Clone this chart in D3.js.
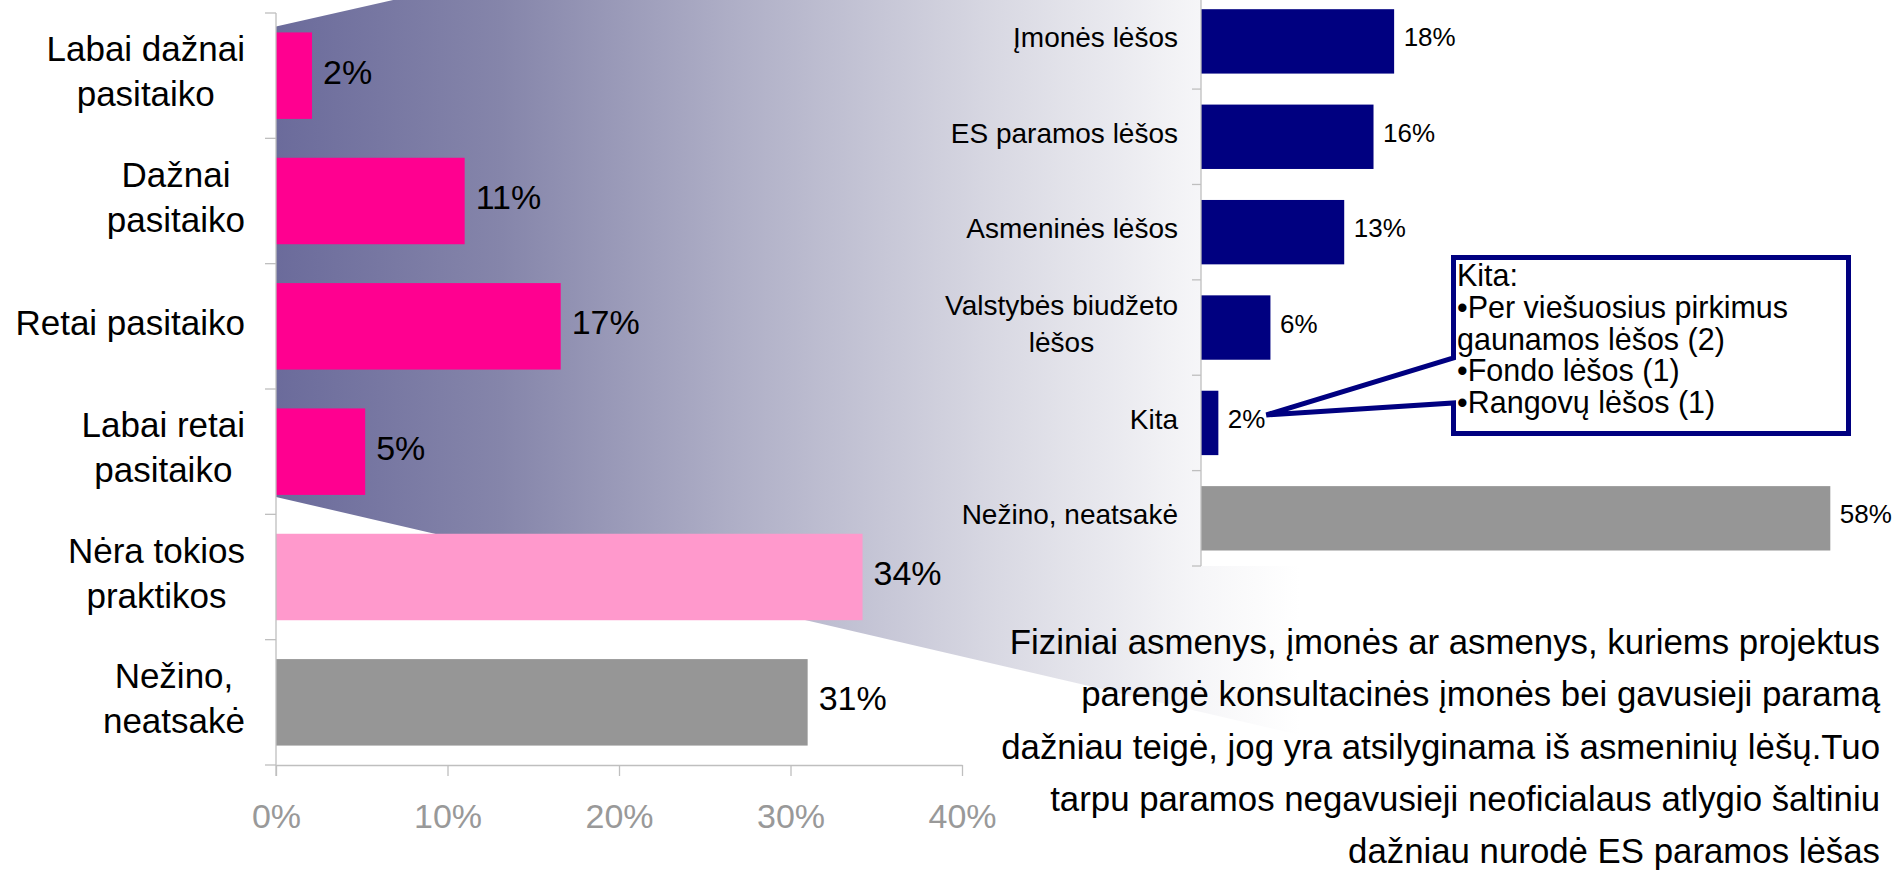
<!DOCTYPE html>
<html><head><meta charset="utf-8">
<script src="https://cdn.jsdelivr.net/npm/d3@7"></script>
<style>
html,body{margin:0;padding:0;background:#fff;overflow:hidden}
svg text{font-family:"Liberation Sans",Arial,Helvetica,sans-serif}
</style>
</head><body>
<svg id="chart" width="1898" height="872"></svg>
<script>
// ---- data ----
const leftCategories = ["Labai dažnai\npasitaiko", "Dažnai\npasitaiko", "Retai pasitaiko", "Labai retai\npasitaiko", "Nėra tokios\npraktikos", "Nežino,\nneatsakė"];
const leftValues = [2.1, 11.0, 16.6, 5.2, 34.2, 31.0];
const leftTicks = [0, 10, 20, 30, 40];

const rightCategories = ["Įmonės lėšos", "ES paramos lėšos", "Asmeninės lėšos", "Valstybės biudžeto\nlėšos", "Kita", "Nežino, neatsakė"];
const rightValues = [17.8, 15.9, 13.2, 6.4, 1.6, 58.0];

const calloutLines = ["Kita:", "•Per viešuosius pirkimus", "gaunamos lėšos (2)", "•Fondo lėšos (1)", "•Rangovų lėšos (1)"];
const noteLines = [
  "Fiziniai asmenys, įmonės ar asmenys, kuriems projektus",
  "parengė konsultacinės įmonės bei gavusieji paramą",
  "dažniau teigė, jog yra atsilyginama iš asmeninių lėšų.Tuo",
  "tarpu paramos negavusieji neoficialaus atlygio šaltiniu",
  "dažniau nurodė ES paramos lėšas"
];

// ---- styles ----
const leftColors = ["#FF0090", "#FF0090", "#FF0090", "#FF0090", "#FF99CC", "#969696"];
const rightColors = ["#000080", "#000080", "#000080", "#000080", "#000080", "#969696"];
const axisColor = "#BFBFBF";

const svg = d3.select("#chart");
const defs = svg.append("defs");

// scales
const xL = d3.scaleLinear().domain([0, 40]).range([276, 962]);
const yL = d3.scaleBand().domain(leftCategories).range([13, 765]).paddingInner(0.31).paddingOuter(0.155);
const xR = d3.scaleLinear().domain([0, 60]).range([1201, 1852]);
const yR = d3.scaleBand().domain(rightCategories).range([-6.3, 566]).paddingInner(0.325).paddingOuter(0.1625);

// zoom gradient shape
const grad = defs.append("linearGradient").attr("id", "zoomGrad")
  .attr("gradientUnits", "userSpaceOnUse").attr("x1", 276).attr("x2", 1300).attr("y1", 0).attr("y2", 0);
[[0, "#6B6B9B"], [0.219, "#8585AA"], [0.443, "#AEAEC6"], [0.707, "#D9D9E3"], [0.903, "#F6F6F8"], [1, "#FFFFFF"]]
  .forEach(([o, c]) => grad.append("stop").attr("offset", o).attr("stop-color", c));
const topL = yL(leftCategories[0]) - 6, botL = yL(leftCategories[3]) + yL.bandwidth() + 2;
const xEnd = 1320;
svg.append("polygon")
  .attr("points", [[xL(0), topL], [xEnd, topL - 0.2256 * (xEnd - xL(0))], [xEnd, botL + 0.2325 * (xEnd - xL(0))], [xL(0), botL]].map(p => p.join(",")).join(" "))
  .attr("fill", "url(#zoomGrad)");
// right chart plot area (white)
svg.append("rect").attr("x", xR(0)).attr("y", 0).attr("width", 1898 - xR(0)).attr("height", yR.range()[1]).attr("fill", "#fff");

function multiLabel(g, text, rightX, cy, fs, lh, yShift) {
  const lines = text.split("\n");
  const t = g.append("text").attr("font-size", fs).attr("text-anchor", "middle").attr("fill", "#000");
  const spans = lines.map(l => t.append("tspan").text(l));
  const widths = spans.map(s => s.node().getComputedTextLength());
  const maxW = Math.max(...widths);
  const cx = rightX - maxW / 2;
  const first = cy + yShift + 0.35 * fs - (lines.length - 1) * lh / 2;
  spans.forEach((s, i) => s.attr("x", cx).attr("y", first + i * lh));
}

// ---- left chart ----
const gL = svg.append("g");
gL.selectAll("rect.bar").data(leftValues).enter().append("rect")
  .attr("x", xL(0)).attr("y", (d, i) => yL(leftCategories[i]))
  .attr("width", d => xL(d) - xL(0)).attr("height", yL.bandwidth())
  .attr("fill", (d, i) => leftColors[i]);

gL.selectAll("text.val").data(leftValues).enter().append("text")
  .attr("x", d => xL(d) + 11)
  .attr("y", (d, i) => yL(leftCategories[i]) + yL.bandwidth() / 2 - 4 + 0.35 * 34)
  .attr("font-size", 34).attr("fill", "#000")
  .text(d => Math.round(d) + "%");

leftCategories.forEach(c => multiLabel(gL, c, 245, yL(c) + yL.bandwidth() / 2, 35, 45, -4));

const stepL = yL.step();
gL.append("line").attr("x1", xL(0)).attr("x2", xL(0)).attr("y1", yL.range()[0]).attr("y2", yL.range()[1] + 11)
  .attr("stroke", axisColor).attr("stroke-width", 1.3);
d3.range(leftCategories.length + 1).forEach(k => {
  const y = yL.range()[0] + k * stepL;
  gL.append("line").attr("x1", xL(0) - 11).attr("x2", xL(0)).attr("y1", y).attr("y2", y)
    .attr("stroke", axisColor).attr("stroke-width", 1.3);
});

const axL = gL.append("g").attr("transform", `translate(0,${yL.range()[1]})`)
  .call(d3.axisBottom(xL).tickValues(leftTicks).tickFormat(d => d + "%").tickSize(11).tickSizeOuter(0).tickPadding(28));
axL.attr("font-family", null).attr("font-size", null);
axL.selectAll("path,line").attr("stroke", axisColor).attr("stroke-width", 1.3);
axL.selectAll("text").attr("fill", "#999999").attr("font-size", 34);

// ---- right chart ----
const gR = svg.append("g");
gR.selectAll("rect.bar").data(rightValues).enter().append("rect")
  .attr("x", xR(0)).attr("y", (d, i) => yR(rightCategories[i]))
  .attr("width", d => xR(d) - xR(0)).attr("height", yR.bandwidth())
  .attr("fill", (d, i) => rightColors[i]);

gR.selectAll("text.val").data(rightValues).enter().append("text")
  .attr("x", d => xR(d) + 9.5)
  .attr("y", (d, i) => yR(rightCategories[i]) + yR.bandwidth() / 2 - 4 + 0.35 * 26)
  .attr("font-size", 26).attr("fill", "#000")
  .text(d => Math.round(d) + "%");

rightCategories.forEach(c => multiLabel(gR, c, 1178, yR(c) + yR.bandwidth() / 2, 28, 37, -4));

const stepR = yR.step();
gR.append("line").attr("x1", xR(0)).attr("x2", xR(0)).attr("y1", 0).attr("y2", yR.range()[1])
  .attr("stroke", axisColor).attr("stroke-width", 1.3);
d3.range(rightCategories.length + 1).forEach(k => {
  const y = yR.range()[0] + k * stepR;
  gR.append("line").attr("x1", xR(0) - 9).attr("x2", xR(0)).attr("y1", y).attr("y2", y)
    .attr("stroke", axisColor).attr("stroke-width", 1.3);
});

// ---- callout ----
const kitaIdx = rightCategories.indexOf("Kita");
const tipX = xR(rightValues[kitaIdx]) + 48;
const tipY = yR("Kita") + yR.bandwidth() / 2 - 8;
const bx = 1453.5, by = 257.5, bw = 395, bh = 176;
svg.append("path")
  .attr("d", `M${bx},${by} H${bx + bw} V${by + bh} H${bx} V403 L${tipX},${tipY} L${bx},358 Z`)
  .attr("fill", "#fff").attr("stroke", "#000080").attr("stroke-width", 5).attr("stroke-linejoin", "miter");
const ct = svg.append("text").attr("font-size", 30.5).attr("fill", "#000");
calloutLines.forEach((l, i) => ct.append("tspan").attr("x", 1457).attr("y", 286 + i * 31.8).text(l));

// ---- note paragraph ----
const nt = svg.append("text").attr("font-size", 34.8).attr("fill", "#000").attr("text-anchor", "end");
noteLines.forEach((l, i) => nt.append("tspan").attr("x", 1880).attr("y", 654 + i * 52.3).text(l));
</script>
</body></html>
